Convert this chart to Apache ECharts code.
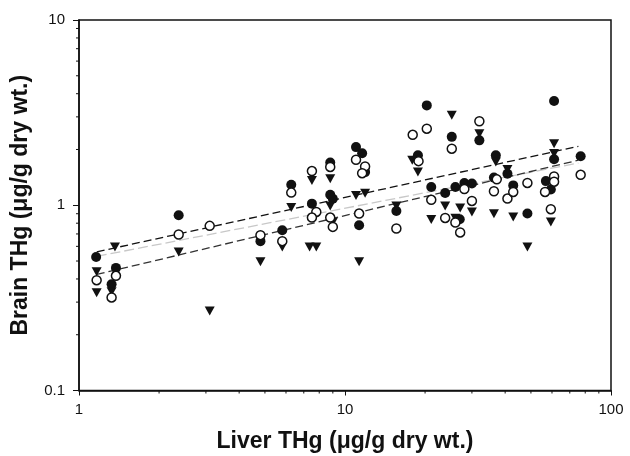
<!DOCTYPE html>
<html>
<head>
<meta charset="utf-8">
<script src="https://cdn.jsdelivr.net/npm/echarts@6/dist/echarts.min.js"></script>
<style>
html,body{margin:0;padding:0;background:#fff;}
#c{width:630px;height:456px;}
</style>
</head>
<body>
<div id="c"></div>
<script>
// Filled circles [liver, brain]
const filledCircles = [
  [1.16,0.526],[2.37,0.883],[1.377,0.459],[1.326,0.375],[4.81,0.64],[5.81,0.733],
  [6.28,1.29],[7.51,1.02],[8.80,1.70],[8.80,1.14],[9.0,1.085],[11.0,2.06],[11.6,1.91],
  [11.9,1.51],[11.3,0.78],[15.6,0.932],[18.8,1.86],[20.3,3.46],[21.1,1.255],[23.8,1.165],
  [25.2,2.34],[26.0,1.255],[28.1,1.32],[30.0,1.31],[27.0,0.84],[32.0,2.24],[36.9,1.86],
  [36.3,1.41],[40.8,1.48],[42.9,1.28],[48.5,0.902],[61.1,3.65],[61.1,1.77],[56.9,1.35],
  [59.4,1.215],[76.9,1.84]
];
// Open circles
const openCircles = [
  [1.165,0.394],[1.377,0.416],[1.326,0.318],[2.37,0.695],[3.10,0.774],[4.81,0.689],
  [5.81,0.64],[6.28,1.17],[7.51,1.53],[7.80,0.92],[7.51,0.858],[8.80,1.61],[8.80,0.858],
  [9.0,0.764],[11.0,1.76],[11.9,1.62],[11.6,1.49],[11.3,0.902],[15.6,0.749],[17.97,2.40],
  [20.3,2.59],[18.9,1.73],[21.1,1.07],[23.8,0.854],[26.0,0.807],[27.1,0.713],[28.1,1.224],
  [30.0,1.055],[25.2,2.02],[32.0,2.84],[37.2,1.38],[36.3,1.19],[40.8,1.087],[42.9,1.18],
  [48.5,1.32],[61.1,1.43],[61.1,1.34],[56.5,1.18],[59.4,0.952],[76.9,1.46]
];
// Filled down-triangles
const triangles = [
  [1.365,0.596],[2.37,0.56],[3.10,0.269],[1.165,0.437],[1.165,0.337],[1.326,0.341],
  [4.81,0.495],[5.81,0.596],[6.28,0.972],[7.51,1.36],[7.36,0.596],[7.80,0.596],[8.80,1.39],
  [8.80,0.99],[9.0,0.81],[11.0,1.13],[11.9,1.16],[11.3,0.495],[15.6,0.99],[17.9,1.75],
  [18.8,1.51],[21.1,0.837],[23.8,0.99],[25.2,3.06],[26.0,0.85],[27.1,0.967],[30.0,0.92],
  [32.0,2.43],[36.9,1.71],[36.3,0.90],[40.8,1.56],[42.9,0.865],[48.5,0.596],[61.1,2.15],
  [61.1,1.90],[59.4,0.813]
];
// Regression lines (end points)
const lineX = [1.166, 75.4];
const upperLine = [0.56, 2.08];
const grayLine = [0.53, 1.69];
const lowerLine = [0.423, 1.75];
// Minor tick values
const xMinorTicks = [2,3,4,5,6,7,8,9,20,30,40,50,60,70,80,90];
const yMinorTicks = [0.2,0.3,0.4,0.5,0.6,0.7,0.8,0.9,2,3,4,5,6,7,8,9];
const xRange = [1, 100];
const yRange = [0.1, 10];
const xTitle = 'Liver THg (\u03bcg/g dry wt.)';
const yTitle = 'Brain THg (\u03bcg/g dry wt.)';

const FONT = '"Liberation Sans", Arial, sans-serif';
const chart = echarts.init(document.getElementById('c'), null, {renderer:'canvas'});

function pairs(ys){ return lineX.map((x,i)=>[x, ys[i]]); }

const option = {
  animation: false,
  backgroundColor: '#fff',
  grid: {left:79, right:19, top:20, bottom:65.5, show:true, borderColor:'#111', borderWidth:1.5,
         containLabel:false, outerBoundsMode:'none'},
  xAxis: {
    type:'log', logBase:10, min:xRange[0], max:xRange[1],
    name:xTitle, nameLocation:'middle', nameGap:40,
    nameTextStyle:{fontFamily:FONT, fontWeight:'bold', fontSize:23, color:'#111'},
    axisLine:{show:true, lineStyle:{color:'#111', width:1.5}},
    axisTick:{show:true, inside:false, length:5, lineStyle:{color:'#111', width:1}},
    axisLabel:{fontFamily:FONT, fontSize:15, color:'#111', margin:12},
    splitLine:{show:false}, minorTick:{show:false}
  },
  yAxis: {
    type:'log', logBase:10, min:yRange[0], max:yRange[1],
    name:yTitle, nameLocation:'middle', nameGap:47,
    nameTextStyle:{fontFamily:FONT, fontWeight:'bold', fontSize:23, color:'#111'},
    axisLine:{show:true, lineStyle:{color:'#111', width:1.5}},
    axisTick:{show:true, inside:false, length:6, lineStyle:{color:'#111', width:1}},
    axisLabel:{fontFamily:FONT, fontSize:15, color:'#111', margin:14,
      formatter:function(v){ return v<1 ? v.toFixed(1) : String(Math.round(v)); }},
    splitLine:{show:false}, minorTick:{show:false}
  },
  series: [
    {type:'line', data:pairs(grayLine), showSymbol:false, symbol:'none', z:1,
     lineStyle:{color:'#c8c8c8', width:1.3, type:[10,4]}},
    {type:'line', data:pairs(upperLine), showSymbol:false, symbol:'none', z:1,
     lineStyle:{color:'#111', width:1.3, type:[8,4]}},
    {type:'line', data:pairs(lowerLine), showSymbol:false, symbol:'none', z:1,
     lineStyle:{color:'#333', width:1.3, type:[8,4]}},
    {type:'scatter', data:filledCircles, symbol:'circle', symbolSize:10, z:3,
     itemStyle:{color:'#111', opacity:1}},
    {type:'scatter', data:triangles, symbol:'triangle', symbolRotate:180, symbolSize:[10,9], z:3,
     itemStyle:{color:'#111', opacity:1}},
    {type:'scatter', data:openCircles, symbol:'circle', symbolSize:9, z:4,
     itemStyle:{color:'#fff', borderColor:'#111', borderWidth:1.5, opacity:1}},
    {type:'custom', clip:false, silent:true, z:5,
     data:xMinorTicks.map(v=>[v, yRange[0]]),
     renderItem:function(params, api){
       const p = api.coord([api.value(0), api.value(1)]);
       return {type:'line', shape:{x1:p[0], y1:p[1], x2:p[0], y2:p[1]+3},
               style:{stroke:'#111', lineWidth:1}};
     }},
    {type:'custom', clip:false, silent:true, z:5,
     data:yMinorTicks.map(v=>[xRange[0], v]),
     renderItem:function(params, api){
       const p = api.coord([api.value(0), api.value(1)]);
       return {type:'line', shape:{x1:p[0]-3, y1:p[1], x2:p[0], y2:p[1]},
               style:{stroke:'#111', lineWidth:1}};
     }}
  ]
};
chart.setOption(option);
</script>
</body>
</html>
